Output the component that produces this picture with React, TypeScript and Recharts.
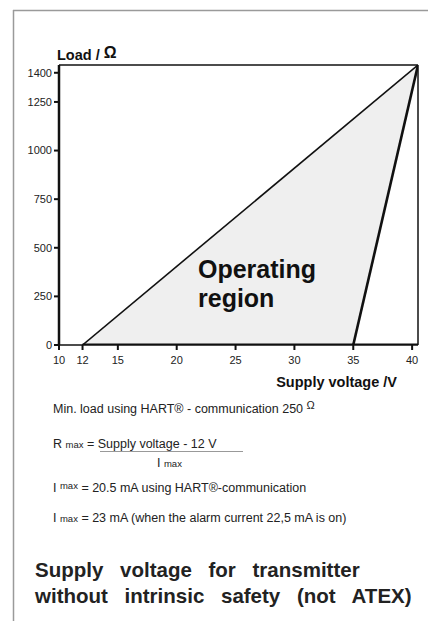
import React from 'react';
import {
  ComposedChart,
  Area,
  Line,
  XAxis,
  YAxis,
  ReferenceLine,
} from 'recharts';

// Supply voltage (V) / load (Ohm) limits
const upperLimitVoltage = [12, 40.5];
const upperLimitLoad = [0, 1440];
const lowerLimitVoltage = [35, 40.5];
const lowerLimitLoad = [0, 1440];
const baseLineVoltage = [12, 40.5];
const baseLineLoad = [0, 0];

const voltageTicks = [10, 12, 15, 20, 25, 30, 35, 40];
const loadTicks = [0, 250, 500, 750, 1000, 1250, 1400];
const voltageDomain = [10, 40.5];
const loadDomain = [0, 1440];

const toPoints = (v: number[], r: number[]) => v.map((x, i) => ({ v: x, r: r[i] }));

const upperLimit = toPoints(upperLimitVoltage, upperLimitLoad);
const lowerLimit = toPoints(lowerLimitVoltage, lowerLimitLoad);
const baseLine = toPoints(baseLineVoltage, baseLineLoad);

const FONT = '"Liberation Sans", Arial, sans-serif';
const tickStyle = { fontSize: 11, fill: '#222', fontFamily: FONT };

export default function App() {
  return (
    <div style={{ position: 'absolute', left: 0, top: 0, width: 428, height: 621, background: '#fff' }}>
      <ComposedChart
        width={428}
        height={400}
        margin={{ top: 65, right: 10, left: 0, bottom: 25 }}
      >
        <XAxis
          type="number"
          dataKey="v"
          domain={voltageDomain}
          ticks={voltageTicks}
          allowDataOverflow
          tick={tickStyle}
          tickSize={5}
          tickMargin={6}
          height={30}
          axisLine={{ stroke: '#111', strokeWidth: 1.5 }}
          tickLine={{ stroke: '#111', strokeWidth: 2 }}
        />
        <YAxis
          type="number"
          dataKey="r"
          domain={loadDomain}
          ticks={loadTicks}
          allowDataOverflow
          width={59}
          tick={tickStyle}
          tickSize={5}
          tickMargin={2}
          axisLine={{ stroke: '#111', strokeWidth: 2.5 }}
          tickLine={{ stroke: '#111', strokeWidth: 2 }}
        />
        <Area
          data={upperLimit}
          dataKey="r"
          type="linear"
          stroke="none"
          fill="#efefef"
          fillOpacity={1}
          isAnimationActive={false}
        />
        <Area
          data={lowerLimit}
          dataKey="r"
          type="linear"
          stroke="none"
          fill="#ffffff"
          fillOpacity={1}
          isAnimationActive={false}
        />
        <ReferenceLine y={1440} stroke="#111" strokeWidth={1.5} />
        <ReferenceLine x={40.5} stroke="#111" strokeWidth={1.5} />
        <Line
          data={upperLimit}
          dataKey="r"
          type="linear"
          stroke="#111"
          strokeWidth={1.6}
          dot={false}
          isAnimationActive={false}
        />
        <Line
          data={lowerLimit}
          dataKey="r"
          type="linear"
          stroke="#111"
          strokeWidth={2.6}
          dot={false}
          isAnimationActive={false}
        />
        <Line
          data={baseLine}
          dataKey="r"
          type="linear"
          stroke="#111"
          strokeWidth={3}
          dot={false}
          isAnimationActive={false}
        />
      </ComposedChart>

      <svg
        width={428}
        height={621}
        style={{ position: 'absolute', left: 0, top: 0, pointerEvents: 'none' }}
        fontFamily={FONT}
      >
        <line x1={13} y1={10.5} x2={428} y2={10.5} stroke="#9a9a9a" strokeWidth={1.5} />
        <line x1={13.5} y1={10} x2={13.5} y2={621} stroke="#9a9a9a" strokeWidth={1.5} />

        <text x={57} y={60} fontSize={14.5} fontWeight="bold" fill="#111">
          Load / <tspan fontSize={16} fontWeight={900} dy={-2}>Ω</tspan>
        </text>
        <text x={397} y={387} fontSize={14.5} fontWeight="bold" fill="#111" textAnchor="end">
          Supply voltage /V
        </text>
        <text x={198} y={278} fontSize={25} fontWeight="bold" fill="#111">Operating</text>
        <text x={198} y={307} fontSize={25} fontWeight="bold" fill="#111">region</text>

        <g fill="#222" fontSize={12.5} style={{ whiteSpace: 'pre' }}>
          <text x={53} y={413}>
            {'Min. load using HART® - communication  250 '}
            <tspan fontSize={11} dy={-4}>Ω</tspan>
          </text>
          <text x={53} y={448}>
            {'R '}
            <tspan fontSize={9.5}>max</tspan>
            {' = Supply voltage - 12 V'}
          </text>
          <line x1={100} y1={451.5} x2={243} y2={451.5} stroke="#999" strokeWidth={1.2} />
          <text x={157} y={467}>
            {'I '}
            <tspan fontSize={9.5}>max</tspan>
          </text>
          <text x={53} y={492}>
            {'I '}
            <tspan fontSize={9.5} dy={-3}>max</tspan>
            <tspan dy={3}>{' = 20.5 mA using HART®-communication'}</tspan>
          </text>
          <text x={53} y={522}>
            {'I '}
            <tspan fontSize={9.5}>max</tspan>
            {' = 23 mA (when the alarm current 22,5 mA is on)'}
          </text>
        </g>

        <g fill="#222" fontSize={20.5} fontWeight="bold" style={{ wordSpacing: 11 }}>
          <text x={35} y={577}>Supply voltage for transmitter</text>
          <text x={35} y={603}>without intrinsic safety (not ATEX)</text>
        </g>
      </svg>
    </div>
  );
}
